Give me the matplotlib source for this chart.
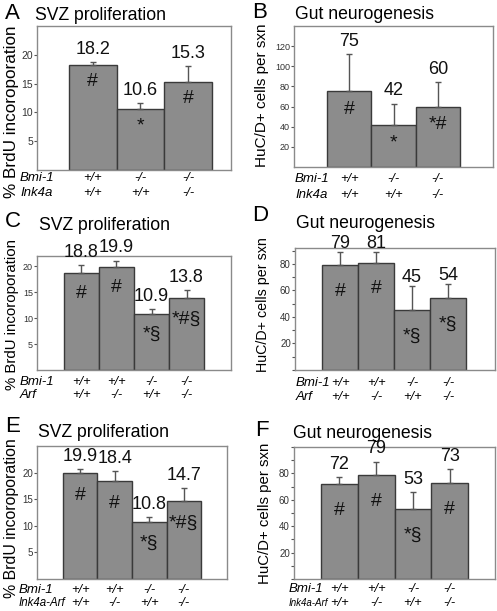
import matplotlib
matplotlib.use("Agg")
import matplotlib.pyplot as plt
from matplotlib.ticker import MultipleLocator

plt.rcParams['font.family'] = ['Liberation Sans', 'DejaVu Sans']

# data
a_vals = [18.2, 10.6, 15.3]
a_err = [0.5, 1.0, 2.8]
a_marks = ['#', '*', '#']
a_row1 = ['+/+', '-/-', '-/-']
a_row2 = ['+/+', '+/+', '-/-']

b_vals = [75, 42, 60]
b_err = [37, 21, 24]
b_marks = ['#', '*', '*#']

c_vals = [18.8, 19.9, 10.9, 13.8]
c_err = [1.5, 1.2, 0.8, 1.6]
c_marks = ['#', '#', '*§', '*#§']
c_row1 = ['+/+', '+/+', '-/-', '-/-']
c_row2 = ['+/+', '-/-', '+/+', '-/-']

d_vals = [79, 81, 45, 54]
d_err = [10, 8, 18, 11]
d_marks = ['#', '#', '*§', '*§']

e_vals = [19.9, 18.4, 10.8, 14.7]
e_err = [0.8, 1.9, 0.8, 2.4]
e_marks = ['#', '#', '*§', '*#§']

f_vals = [72, 79, 53, 73]
f_err = [5, 10, 13, 10]
f_marks = ['#', '#', '*§', '#']

W, H = 497, 611
fig = plt.figure(figsize=(W / 100, H / 100), dpi=100)

BAR = '#8c8c8c'
EDGE = '#3a3a3a'
SPINE = '#8a8a8a'


def px_axes(l, t, r, b):
    return fig.add_axes([l / W, 1 - b / H, (r - l) / W, (b - t) / H])


def draw_panel(box, vals, err, marks, xlim, ylim, yticks, minor, tick_fs,
               mark_off, row1, row2, row_off, gene2, gene_x, gene2_fs,
               letter, letter_xy, title, title_xy, ylabel, ylabel_xy, ylabel_fs,
               val_off=3):
    ax = px_axes(*box)
    x = list(range(len(vals)))
    ax.bar(x, vals, width=1.0, color=BAR, edgecolor=EDGE, linewidth=1.0, zorder=2)
    ax.errorbar(x, vals, yerr=[[0] * len(vals), err], fmt='none',
                ecolor='#555555', elinewidth=1.0, capsize=2, capthick=1.0, zorder=3)
    for xi, v, e in zip(x, vals, err):
        ax.annotate(f'{v:g}', (xi, v + e), xytext=(0, val_off), textcoords='offset points',
                    ha='center', va='bottom', fontsize=13, color='#111111')
    for xi, v, m in zip(x, vals, marks):
        ax.annotate(m, (xi, v), xytext=(0, -mark_off), textcoords='offset points',
                    ha='center', va='center', fontsize=14, color='#111111')
    ax.set_xlim(*xlim)
    ax.set_ylim(*ylim)
    ax.set_xticks([])
    ax.set_yticks(yticks)
    ax.tick_params(axis='y', labelsize=tick_fs, length=2, width=0.8,
                   color='#555555', labelcolor='#333333', pad=1)
    if minor:
        ax.yaxis.set_minor_locator(MultipleLocator(minor))
        ax.tick_params(axis='y', which='minor', length=2, width=0.8, color='#555555')
    for s in ax.spines.values():
        s.set_color(SPINE)
        s.set_linewidth(1.0)
    # genotype rows under the bars
    bottom = box[3]
    for xi, g1, g2 in zip(x, row1, row2):
        ax.annotate(g1, (xi, 0), xycoords=('data', 'axes fraction'),
                    xytext=(0, -row_off[0] * 0.72), textcoords='offset points',
                    ha='center', va='center', fontsize=9.3, style='italic')
        ax.annotate(g2, (xi, 0), xycoords=('data', 'axes fraction'),
                    xytext=(0, -row_off[1] * 0.72), textcoords='offset points',
                    ha='center', va='center', fontsize=9.3, style='italic')
    fig.text(gene_x / W, 1 - (bottom + row_off[0]) / H, 'Bmi-1',
             ha='left', va='center', fontsize=9.5, style='italic')
    fig.text(gene_x / W, 1 - (bottom + row_off[1]) / H, gene2,
             ha='left', va='center', fontsize=gene2_fs, style='italic')
    fig.text(letter_xy[0] / W, 1 - letter_xy[1] / H, letter,
             ha='left', va='baseline', fontsize=16)
    fig.text(title_xy[0] / W, 1 - title_xy[1] / H, title,
             ha='left', va='baseline', fontsize=12.7)
    fig.text(ylabel_xy[0] / W, 1 - ylabel_xy[1] / H, ylabel, rotation=90,
             ha='center', va='center', fontsize=ylabel_fs)
    return ax


svz = 'SVZ proliferation'
gut = 'Gut neurogenesis'
brdu = '% BrdU incoroporation'
huc = 'HuC/D+ cells per sxn'

draw_panel((37, 26, 231, 170), a_vals, a_err, a_marks, (-1.17, 2.9), (0, 25),
           [5, 10, 15, 20], None, 7.5, 12, a_row1, a_row2, (8, 23), 'Ink4a', 20, 9.5,
           'A', (5, 19), svz, (35, 20), brdu, (12, 112), 12.3)
draw_panel((294, 26, 493, 167), b_vals, b_err, b_marks, (-1.245, 3.245), (0, 140),
           [20, 40, 60, 80, 100, 120], None, 6.5, 13, a_row1, a_row2, (12, 28), 'Ink4a', 295, 9.5,
           'B', (252, 18), gut, (295, 19), huc, (262, 95), 11)
draw_panel((37, 256, 231, 370), c_vals, c_err, c_marks, (-1.27, 4.27), (0, 22),
           [5, 10, 15, 20], None, 6.5, 15, c_row1, c_row2, (12, 25), 'Arf', 20, 9.5,
           'C', (5, 227), svz, (39, 230), brdu, (12, 314), 10.8)
draw_panel((295, 248, 495, 370), d_vals, d_err, d_marks, (-1.25, 4.3), (0, 92),
           [20, 40, 60, 80], 10, 7, 19, c_row1, c_row2, (13, 27), 'Arf', 296, 9.5,
           'D', (252, 221), gut, (296, 228), huc, (263, 305), 10.3, val_off=0)
draw_panel((37, 446, 227, 579), e_vals, e_err, e_marks, (-1.25, 4.25), (0, 25),
           [5, 10, 15, 20], None, 7, 16, c_row1, c_row2, (11, 24), 'Ink4a-Arf', 19, 8.3,
           'E', (5, 432), svz, (38, 437), brdu, (12, 518), 11.4)
draw_panel((294, 447, 495, 579), f_vals, f_err, f_marks, (-1.23, 4.23), (0, 100),
           [20, 40, 60, 80], 10, 7, 19, c_row1, c_row2, (10, 24), 'Ink4a-Arf', 289, 7.0,
           'F', (255, 436), gut, (293, 438), huc, (265, 513), 10.8)

fig.savefig('out.png', dpi=100)
